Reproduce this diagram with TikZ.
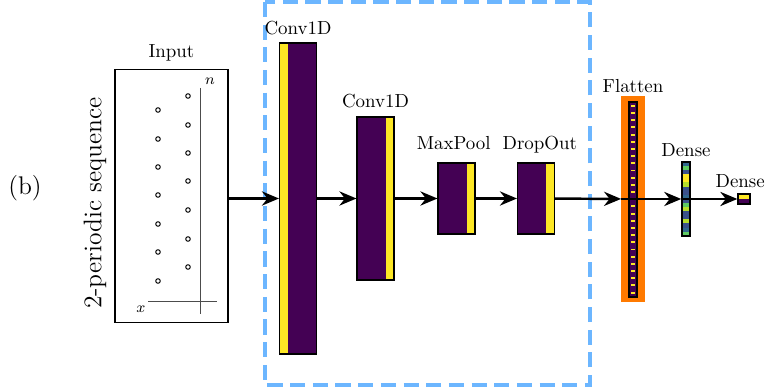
\documentclass[tikz,border=0pt]{standalone}
\usetikzlibrary{arrows.meta,positioning}
\definecolor{vpurple}{HTML}{440154}
\definecolor{vyellow}{HTML}{FDE725}
\definecolor{vblue}{HTML}{3B528B}
\definecolor{vsteel}{HTML}{31688E}
\definecolor{vgreen}{HTML}{5EC962}
\definecolor{vlime}{HTML}{B5DE2B}
\definecolor{flatorange}{HTML}{FF7A00}
\definecolor{boxblue}{HTML}{6CB6FF}
\begin{document}
\begin{tikzpicture}[x=0.0186cm,y=-0.0186cm,
    layer/.style={draw=black,line width=0.8pt,fill=vpurple,inner sep=0pt,minimum width=0.68cm},
    stripeL/.style={path picture={\fill[vyellow] (path picture bounding box.north west) rectangle ([xshift=0.15cm]path picture bounding box.south west);}},
    stripeR/.style={path picture={\fill[vyellow] ([xshift=-0.15cm]path picture bounding box.north east) rectangle (path picture bounding box.south east);}},
    lbl/.style={inner sep=0pt},
    conn/.style={line width=1.3pt,-{Stealth[length=9pt,width=7.5pt]}},
    dot/.style={circle,draw,line width=0.5pt,inner sep=0pt,minimum size=2.4pt}]
\useasboundingbox (0,0) rectangle (770,387);

% side labels
\node (tag) at (25,188) {\fontsize{13.5}{16}\selectfont (b)};
\node[rotate=90] (seq) at (95,203) {\fontsize{13.5}{16}\selectfont 2-periodic sequence};

% input sequence
\node[draw,line width=0.8pt,minimum width=2.10cm,minimum height=4.71cm,inner sep=0pt] (in) at (171.5,196) {};
\node[lbl,above=5.8pt of in,anchor=base] (inlbl) {Input};
\draw[black!70,line width=0.5pt] (200,88) -- (200,314);
\draw[black!70,line width=0.5pt] (148,301) -- (217,301);
\node[lbl] (nlbl) at (210,81) {\footnotesize$n$};
\node[lbl] (xlbl) at (141,309) {\footnotesize$x$};
\foreach \y [count=\i] in {110,139,167,195,224,252,281}
    \node[dot] (l\i) at (158,\y) {};
\foreach \y [count=\i] in {96,125,153,181,210,239,267}
    \node[dot] (r\i) at (188,\y) {};

% conv block
\draw[boxblue,line width=1.6pt,dash pattern=on 8pt off 4pt] (265,2) rectangle (590,385);
\node[layer,stripeL,minimum height=5.78cm] (c1) at (298,198.5) {};
\node[lbl,above=4.2pt of c1,anchor=base] (c1lbl) {Conv1D};
\node[layer,stripeR,minimum height=3.03cm] (c2) at (375.5,198.5) {};
\node[lbl,above=4.7pt of c2,anchor=base] (c2lbl) {Conv1D};
\node[layer,stripeR,minimum height=1.32cm] (mp) at (456.5,198.5) {};
\node[lbl,above=6.8pt of mp,anchor=base,xshift=-1.5pt] (mplbl) {MaxPool};
\node[layer,stripeR,minimum height=1.32cm] (dp) at (536,198.5) {};
\node[lbl,above=6.8pt of dp,anchor=base,xshift=2pt] (dplbl) {DropOut};

% flatten and dense
\node[fill=flatorange,inner sep=0pt,minimum width=0.43cm,minimum height=3.83cm] (flat) at (633,199) {};
\node[lbl,above=1.6pt of flat,anchor=base] (flatlbl) {Flatten};
\node[layer,minimum width=0.15cm,minimum height=3.63cm,
    path picture={\foreach \k in {0,...,26}
        \fill[vyellow] ([xshift=-1.05pt,yshift=-1.6pt-\k*3.8pt]path picture bounding box.north) rectangle ++(2.1pt,-1pt);}] (fbar) at (633,199.5) {};
\node[layer,minimum width=0.15cm,minimum height=1.38cm,
    path picture={\foreach \c [count=\k from 0] in {vsteel,vgreen,vblue,vyellow,vyellow,vlime,vblue,vblue,vsteel,vblue,vgreen,vlime,vblue,vblue,vlime,vblue,vsteel,vgreen}
        \fill[\c] ([yshift=-\k*0.0763cm]path picture bounding box.north west) rectangle ([yshift=-\k*0.0763cm-0.0763cm]path picture bounding box.north east);}] (dense) at (686,199) {};
\node[lbl,above=2.6pt of dense,anchor=base] (denselbl) {Dense};
\node[layer,minimum width=0.22cm,minimum height=0.19cm,
    path picture={\fill[vyellow] (path picture bounding box.north west) rectangle (path picture bounding box.east);}] (out) at (744,199) {};
\node[lbl,above=3.2pt of out,anchor=base,xshift=-2pt] (outlbl) {Dense};

% connectors
\draw[conn] (in.east |- c1.west) -- (c1);
\draw[conn] (c1) -- (c2);
\draw[conn] (c2) -- (mp);
\draw[conn] (mp) -- (dp);
\draw[conn] (dp) -- (flat);
\draw[conn] (flat.west) -- (dense);
\draw[conn] (dense.west) -- (out);
\end{tikzpicture}
\end{document}
